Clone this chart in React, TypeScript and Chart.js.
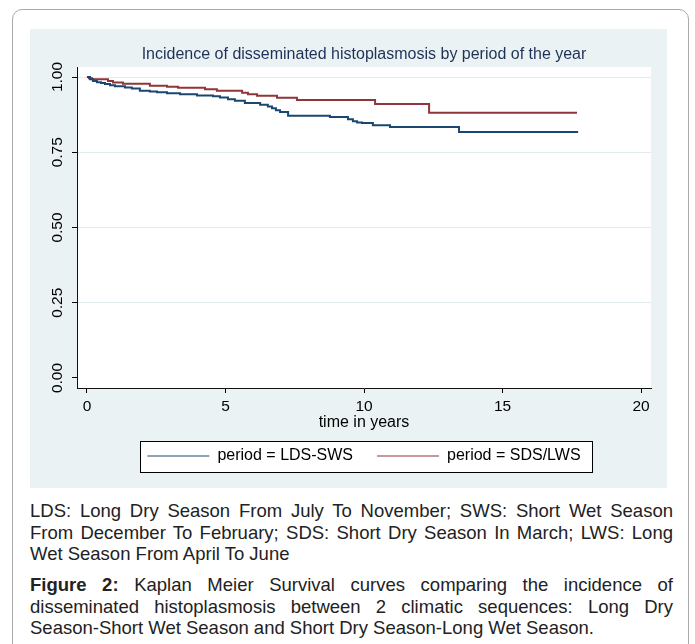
import React, { useEffect, useRef } from "react";
import { Chart, registerables } from "chart.js";

Chart.register(...registerables);

// ---- data ----
const seriesLabels = ["period = LDS-SWS", "period = SDS/LWS"];

const ldsTimes = [0, 0.11, 0.22, 0.36, 0.51, 0.65, 0.83, 1.01, 1.37, 1.62, 1.91, 2.27, 2.53, 2.89, 3.36, 3.97, 4.55, 4.8, 5.09, 5.34, 5.7, 6.25, 6.53, 6.68, 6.82, 6.97, 7.26, 8.77, 9.42, 9.6, 9.75, 9.93, 10.32, 10.94, 13.43, 17.73];
const ldsSurvival = [1.0, 0.993, 0.987, 0.983, 0.98, 0.977, 0.973, 0.969, 0.965, 0.962, 0.954, 0.952, 0.949, 0.946, 0.943, 0.939, 0.936, 0.932, 0.926, 0.921, 0.914, 0.908, 0.902, 0.896, 0.89, 0.884, 0.871, 0.867, 0.86, 0.853, 0.849, 0.847, 0.84, 0.834, 0.817, 0.817];

const sdsTimes = [0, 0.07, 0.18, 0.76, 0.94, 1.3, 2.27, 2.89, 3.29, 4.26, 4.69, 5.6, 5.81, 6.14, 6.86, 7.58, 10.4, 12.35, 17.69];
const sdsSurvival = [1.0, 0.996, 0.993, 0.987, 0.982, 0.978, 0.971, 0.968, 0.964, 0.959, 0.954, 0.948, 0.943, 0.938, 0.931, 0.924, 0.91, 0.881, 0.881];

const xTickValues = [0, 5, 10, 15, 20];
const yTickValues = [0, 0.25, 0.5, 0.75, 1];

const chartTitle = "Incidence of disseminated histoplasmosis by period of the year";
const xAxisTitle = "time in years";

const captionNote =
  "LDS: Long Dry Season From July To November; SWS: Short Wet Season From December To February; SDS: Short Dry Season In March; LWS: Long Wet Season From April To June";
const captionLabel = "Figure 2:";
const captionFigure =
  "Kaplan Meier Survival curves comparing the incidence of disseminated histoplasmosis between 2 climatic sequences: Long Dry Season-Short Wet Season and Short Dry Season-Long Wet Season.";

const NAVY = "#1a476f";
const MAROON = "#90353b";
const PANEL = "#eaf2f3";
const FONT = "'Liberation Sans', Arial, Helvetica, sans-serif";

const toPoints = (t: number[], s: number[]) => t.map((x, i) => ({ x, y: s[i] }));

const panelPlugin = {
  id: "panelPlugin",
  beforeDraw(chart: any) {
    const { ctx, chartArea } = chart;
    ctx.save();
    ctx.fillStyle = "#ffffff";
    ctx.fillRect(chartArea.left, chartArea.top, chartArea.right - chartArea.left, chartArea.bottom - chartArea.top);
    const lg = chart.legend;
    if (lg && lg.legendHitBoxes && lg.legendHitBoxes.length) {
      const hb = lg.legendHitBoxes;
      const first = hb[0];
      const last = hb[hb.length - 1];
      const cy = first.top + first.height / 2;
      const left = Math.round(first.left - 7) + 0.5;
      const right = Math.round(last.left + last.width + 11) + 0.5;
      const top = Math.round(cy - 15.5) + 0.5;
      const bottom = Math.round(cy + 15.5) + 0.5;
      ctx.fillStyle = "#ffffff";
      ctx.fillRect(left, top, right - left, bottom - top);
      ctx.strokeStyle = "#000000";
      ctx.lineWidth = 1;
      ctx.strokeRect(left, top, right - left, bottom - top);
    }
    ctx.restore();
  },
};

export default function App() {
  const canvasRef = useRef<HTMLCanvasElement>(null);

  useEffect(() => {
    if (!canvasRef.current) return;
    const chart = new Chart(canvasRef.current, {
      type: "line",
      data: {
        datasets: [
          {
            label: seriesLabels[0],
            data: toPoints(ldsTimes, ldsSurvival),
            borderColor: NAVY,
            backgroundColor: NAVY,
            borderWidth: 2,
            pointRadius: 0,
            stepped: "before",
            fill: false,
          },
          {
            label: seriesLabels[1],
            data: toPoints(sdsTimes, sdsSurvival),
            borderColor: MAROON,
            backgroundColor: MAROON,
            borderWidth: 2,
            pointRadius: 0,
            stepped: "before",
            fill: false,
          },
        ],
      },
      options: {
        responsive: false,
        animation: false,
        devicePixelRatio: 1,
        events: [],
        layout: { padding: { left: 0, right: 16, top: 0, bottom: 14 } },
        scales: {
          x: {
            type: "linear",
            min: -0.36,
            max: 20.36,
            afterBuildTicks: (scale: any) => {
              scale.ticks = xTickValues.map((v) => ({ value: v }));
            },
            afterFit: (scale: any) => {
              scale.height = 36;
              scale.paddingLeft = 0;
              scale.paddingRight = 0;
            },
            grid: {
              drawOnChartArea: false,
              drawTicks: true,
              tickLength: 5,
              tickColor: "#000",
            },
            border: { display: true, color: "#111", width: 1 },
            ticks: {
              padding: 4.4,
              color: "#000",
              maxRotation: 0,
              minRotation: 0,
              font: { family: FONT, size: 15.5 },
              callback: (v: any) => String(v),
            },
            title: {
              display: true,
              text: xAxisTitle,
              color: "#000",
              font: { family: FONT, size: 16 },
              padding: { top: 0, bottom: -8.6 },
            },
          },
          y: {
            type: "linear",
            min: -0.0333,
            max: 1.0333,
            afterBuildTicks: (scale: any) => {
              scale.ticks = yTickValues.map((v) => ({ value: v }));
            },
            afterFit: (scale: any) => {
              scale.width = 47;
              scale.paddingTop = 0;
              scale.paddingBottom = 0;
            },
            grid: {
              drawOnChartArea: true,
              drawTicks: true,
              tickLength: 5,
              tickColor: "#000",
              color: (ctx: any) => (ctx.tick && ctx.tick.value === 0 ? "rgba(0,0,0,0)" : "#e2ebed"),
              lineWidth: 1,
            },
            border: { display: true, color: "#111", width: 1 },
            ticks: {
              padding: -1,
              color: "#000",
              minRotation: 90,
              maxRotation: 90,
              crossAlign: "center",
              font: { family: FONT, size: 15.5 },
              callback: (v: any) => Number(v).toFixed(2),
            },
          },
        },
        plugins: {
          title: {
            display: true,
            text: chartTitle,
            fullSize: false,
            color: "#1f3158",
            font: { family: FONT, size: 16, weight: "normal" },
            padding: { top: 16.4, bottom: 2.4 },
          },
          legend: {
            display: true,
            position: "bottom",
            fullSize: false,
            labels: {
              boxWidth: 62,
              boxHeight: 1,
              padding: 24,
              color: "#000",
              font: { family: FONT, size: 16 },
              generateLabels: (c: any) =>
                Chart.defaults.plugins.legend.labels
                  .generateLabels(c)
                  .map((it: any) => ({ ...it, lineWidth: 0 })),
            },
          },
          tooltip: { enabled: false },
        },
      } as any,
      plugins: [panelPlugin],
    });
    return () => chart.destroy();
  }, []);

  return (
    <div
      style={{
        position: "absolute",
        left: 0,
        top: 0,
        width: 695,
        height: 644,
        overflow: "hidden",
        background: "#ffffff",
      }}
    >
      <div
        style={{
          position: "absolute",
          left: 12,
          top: 9,
          width: 677,
          height: 720,
          border: "1.5px solid #a9a9a9",
          borderRadius: 10,
          boxSizing: "border-box",
        }}
      />
      <div
        style={{
          position: "absolute",
          left: 30,
          top: 29,
          width: 637,
          height: 459,
          background: PANEL,
        }}
      >
        <canvas ref={canvasRef} width={637} height={459} style={{ display: "block" }} />
      </div>
      <div
        style={{
          position: "absolute",
          left: 30,
          top: 500.4,
          width: 643,
          fontFamily: FONT,
          fontSize: 18.5,
          lineHeight: "21.5px",
          color: "#222",
          textAlign: "justify",
        }}
      >
        <p style={{ margin: 0 }}>{captionNote}</p>
        <p style={{ margin: "9.5px 0 0 0" }}>
          <b>{captionLabel}</b> {captionFigure}
        </p>
      </div>
    </div>
  );
}
